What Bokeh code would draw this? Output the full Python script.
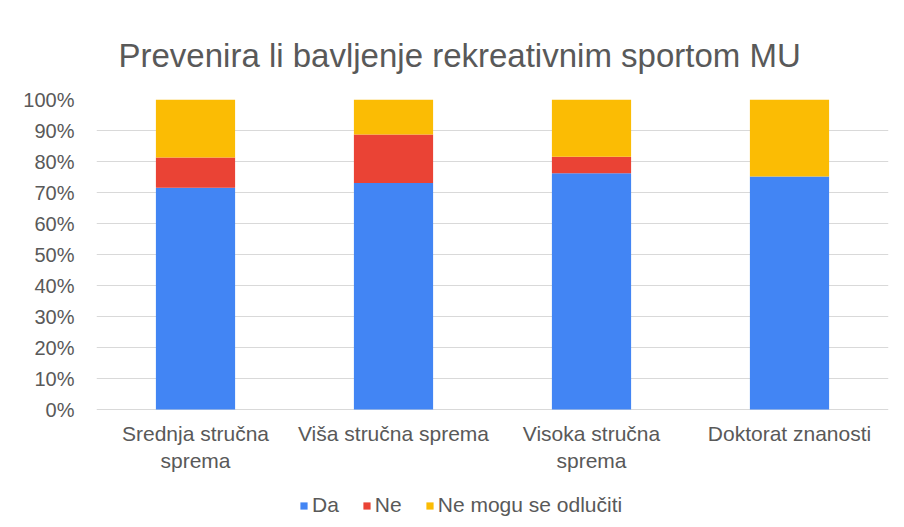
from bokeh.plotting import figure
from bokeh.models import ColumnDataSource, Range1d, NumeralTickFormatter, FixedTicker, Legend, LegendItem
from bokeh.embed import file_html
from bokeh.resources import INLINE

categories = ["Srednja stručna\nsprema", "Viša stručna sprema", "Visoka stručna\nsprema", "Doktorat znanosti"]
da = [0.715, 0.731, 0.762, 0.752]
ne = [0.098, 0.156, 0.053, 0.0]
ne_mogu = [0.187, 0.113, 0.185, 0.248]
series = ["Da", "Ne", "Ne mogu se odlučiti"]
colors = ["#4285F4", "#EA4335", "#FBBC04"]
yticks = [0.0, 0.1, 0.2, 0.3, 0.4, 0.5, 0.6, 0.7, 0.8, 0.9, 1.0]

FONT = "Liberation Sans"
TXT = "#595959"

source = ColumnDataSource(data=dict(cat=categories, Da=da, Ne=ne, NeMogu=ne_mogu))

# frame spans from the 100% line down to the bottom of the chart; 310 px per 100%
H = 527
TOP = 99
frame_h = H - TOP
y_min = 1 - frame_h / 310.0

p = figure(x_range=categories, y_range=Range1d(y_min, 1), width=896, height=H,
           output_backend="svg", toolbar_location=None,
           min_border_left=96, min_border_right=8, min_border_top=TOP, min_border_bottom=0)

renderers = p.vbar_stack(["Da", "Ne", "NeMogu"], x="cat", width=0.4, color=colors,
                         line_color=None, source=source)

p.title.text = "Prevenira li bavljenje rekreativnim sportom MU"
p.title.align = "left"
p.title.text_font = FONT
p.title.text_font_size = "33px"
p.title.text_font_style = "normal"
p.title.text_color = TXT
p.title.offset = 22
p.title.standoff = 52

p.x_range.range_padding = 0
p.xaxis.fixed_location = 0
p.yaxis.ticker = FixedTicker(ticks=yticks)
p.yaxis.formatter = NumeralTickFormatter(format="0%")
for ax in (p.xaxis[0], p.yaxis[0]):
    ax.axis_line_color = None
    ax.major_tick_line_color = None
    ax.minor_tick_line_color = None
    ax.major_label_text_font = FONT
    ax.major_label_text_color = TXT
p.yaxis.major_label_text_font_size = "20px"
p.yaxis.major_label_standoff = 16
p.xaxis.major_label_text_font_size = "21px"
p.xaxis.major_label_standoff = 6

p.xgrid.grid_line_color = None
p.ygrid.grid_line_color = "#d9d9d9"
p.ygrid.grid_line_width = 1
p.outline_line_color = None

legend = Legend(items=[LegendItem(label=s, renderers=[r]) for s, r in zip(series, renderers)],
                orientation="horizontal", location=(203, 10),
                glyph_width=9, glyph_height=9, label_standoff=4, spacing=23,
                padding=0, margin=0, border_line_color=None, background_fill_alpha=0,
                label_text_font=FONT, label_text_font_size="21px", label_text_color=TXT,
                label_height=20)
p.add_layout(legend, "center")

open("out.html", "w").write(file_html(p, INLINE))
